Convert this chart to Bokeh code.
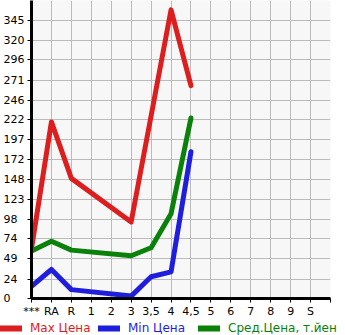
from bokeh.plotting import figure
from bokeh.layouts import column, row
from bokeh.models import FixedTicker, Legend, LegendItem, Range1d
from bokeh.embed import file_html
from bokeh.resources import INLINE

# ---- data ----
categories = ["***", "RA", "R", "1", "2", "3", "3,5", "4", "4,5", "5", "6", "7", "8", "9", "S"]
max_price = [62, 219, 149, None, None, 95, None, 358, 264, None, None, None, None, None, None]
min_price = [15, 36, 11, None, None, 3, 27, 33, 182, None, None, None, None, None, None]
avg_price = [59, 71, 60, None, None, 53, 63, 105, 224, None, None, None, None, None, None]
y_tick_labels = [0, 24, 49, 74, 98, 123, 148, 172, 197, 222, 246, 271, 296, 320, 345]
series_names = ["Max Цена", "Min Цена", "Сред.Цена, т.йен"]
series_colors = ["#dc1e1e", "#1e1edc", "#0a820a"]

FONT = "DejaVu Sans"
FIG_SP = "\u2007"

p = figure(width=345, height=320, output_backend="svg", toolbar_location=None,
           x_range=Range1d(0, len(categories)),
           y_range=Range1d(0, y_tick_labels[-1] * 15 / 14),
           min_border_left=30, min_border_right=15, min_border_top=0, min_border_bottom=20)
p.background_fill_color = "#f7f7f7"
p.border_fill_color = "white"
p.outline_line_color = None

# grid
p.xgrid.ticker = FixedTicker(ticks=list(range(len(categories) + 1)))
p.ygrid.ticker = FixedTicker(ticks=y_tick_labels)
for g in (p.xgrid, p.ygrid):
    g.grid_line_color = "#bbbbbb"
    g.grid_line_width = 1

# x axis
xa = p.xaxis[0]
xa.ticker = FixedTicker(ticks=list(range(len(categories) + 1)))
xa.major_label_overrides = {i: c for i, c in enumerate(categories)} | {len(categories): ""}
xa.axis_line_color = "black"
xa.axis_line_width = 3
xa.major_tick_out = 4
xa.major_tick_in = 0
xa.major_tick_line_color = "black"
xa.minor_tick_line_color = None
xa.major_label_standoff = 2
xa.major_label_text_font = FONT
xa.major_label_text_font_size = "11px"
xa.major_label_text_color = "black"

# y axis: labels padded with figure spaces so they appear left-aligned
maxlen = max(len(str(v)) for v in y_tick_labels)
ya = p.yaxis[0]
ya.ticker = FixedTicker(ticks=y_tick_labels)
ya.major_label_overrides = {v: str(v) + FIG_SP * (maxlen - len(str(v))) for v in y_tick_labels}
ya.axis_line_color = "black"
ya.axis_line_width = 3
ya.major_tick_out = 4
ya.major_tick_in = 0
ya.major_tick_line_color = "black"
ya.minor_tick_line_color = None
ya.major_label_standoff = 3
ya.major_label_text_font = FONT
ya.major_label_text_font_size = "11px"
ya.major_label_text_color = "black"
ya.major_label_text_baseline = "alphabetic"

# series
for name, vals, col in zip(series_names, [max_price, min_price, avg_price], series_colors):
    xs = [i for i, v in enumerate(vals) if v is not None]
    ys = [v for v in vals if v is not None]
    p.line(xs, ys, line_color=col, line_width=5, line_cap="round", line_join="round")

# legend strip (separate small figure, pixel coordinates)
lg = figure(width=345, height=15, output_backend="svg", toolbar_location=None,
            x_range=Range1d(0, 345), y_range=Range1d(0, 15),
            x_axis_location=None, y_axis_location=None,
            min_border=0)
lg.outline_line_color = None
lg.background_fill_color = "white"
lg.border_fill_color = "white"
lg.grid.visible = False
legend_x = [0, 98, 198]
for name, col, lx in zip(series_names, series_colors, legend_x):
    r = lg.line([-20, -10], [-20, -20], line_color=col, line_width=6, line_cap="round")
    leg = Legend(items=[LegendItem(label=name, renderers=[r])], location=(lx, 0),
                 glyph_width=22, glyph_height=14, label_standoff=8,
                 padding=0, margin=0, border_line_color=None, background_fill_alpha=0,
                 label_text_font=FONT, label_text_font_size="12px",
                 label_text_color=col, label_height=14)
    lg.add_layout(leg, "center")

layout = column(p, row(lg, spacing=0), spacing=0)
open("out.html", "w").write(file_html(layout, INLINE))
